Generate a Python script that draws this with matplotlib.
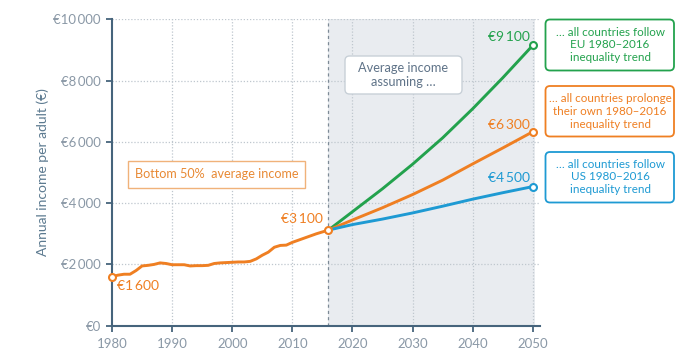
import matplotlib
matplotlib.use("Agg")
import matplotlib.pyplot as plt
from matplotlib.patches import FancyBboxPatch

plt.rcParams['font.family'] = ['Lato', 'DejaVu Sans']

# ---- data ----
hist_years = list(range(1980, 2017))
hist_values = [1600, 1650, 1680, 1680, 1800, 1950, 1970, 2000, 2050, 2030,
               1990, 1990, 1990, 1950, 1960, 1960, 1970, 2030, 2050, 2060,
               2070, 2080, 2080, 2100, 2180, 2300, 2400, 2560, 2620, 2630,
               2720, 2790, 2860, 2930, 3000, 3060, 3120]
proj_years = [2016, 2020, 2025, 2030, 2035, 2040, 2045, 2050]
eu_values = [3120, 3720, 4470, 5270, 6130, 7080, 8090, 9150]
own_values = [3120, 3450, 3850, 4280, 4750, 5280, 5800, 6330]
us_values = [3120, 3300, 3480, 3680, 3900, 4130, 4340, 4540]
x_ticks = [1980, 1990, 2000, 2010, 2020, 2030, 2040, 2050]
y_ticks = [0, 2000, 4000, 6000, 8000, 10000]
y_tick_labels = ["€0", "€2\u2009000", "€4\u2009000", "€6\u2009000", "€8\u2009000", "€10\u2009000"]

GREEN = "#23a24d"
ORANGE = "#ef7f22"
BLUE = "#1e9ad3"
SPINE = "#46647c"
TICKTXT = "#8a98a6"
GRID = "#bfc7ce"

W, H = 696, 361
fig = plt.figure(figsize=(W / 100, H / 100), dpi=100)
ax = fig.add_axes([112 / W, 35.3 / H, (540 - 112) / W, (325.7 - 19.3) / H])

ax.set_xlim(1980, 2051.2)
ax.set_ylim(0, 10000)

# shaded projection area
ax.axvspan(2016, 2050.3, color="#e9ecf0", zorder=0, lw=0)
ax.axvline(2016, color="#7d8a96", lw=0.9, ls=(0, (2.5, 2.5)), zorder=1)

# grid
for xv in x_ticks[1:]:
    ax.axvline(xv, color=GRID, lw=0.9, ls=(0, (1, 1.5)), zorder=0.5)
for yv in y_ticks[1:]:
    ax.axhline(yv, color=GRID, lw=0.9, ls=(0, (1, 1.5)), zorder=0.5)

# lines
lw = 2.1
ax.plot(proj_years, eu_values, color=GREEN, lw=lw, zorder=3, solid_capstyle='round', solid_joinstyle='round')
ax.plot(proj_years, own_values, color=ORANGE, lw=lw, zorder=3, solid_capstyle='round', solid_joinstyle='round')
ax.plot(proj_years, us_values, color=BLUE, lw=lw, zorder=3, solid_capstyle='round', solid_joinstyle='round')
ax.plot(hist_years, hist_values, color=ORANGE, lw=lw, zorder=4, solid_joinstyle='round')

mk = dict(marker='o', ms=5, mfc='white', mew=1.5, zorder=5, ls='none', clip_on=False)
ax.plot([hist_years[0]], [hist_values[0]], mec=ORANGE, **mk)
ax.plot([hist_years[-1]], [hist_values[-1]], mec=ORANGE, **mk)
ax.plot([proj_years[-1]], [eu_values[-1]], mec=GREEN, **mk)
ax.plot([proj_years[-1]], [own_values[-1]], mec=ORANGE, **mk)
ax.plot([proj_years[-1]], [us_values[-1]], mec=BLUE, **mk)

# spines & ticks
for s in ["top", "right"]:
    ax.spines[s].set_visible(False)
for s in ["left", "bottom"]:
    ax.spines[s].set_color(SPINE)
    ax.spines[s].set_linewidth(1.5)
ax.set_xticks(x_ticks)
ax.set_xticklabels([str(v) for v in x_ticks])
ax.set_yticks(y_ticks)
ax.set_yticklabels(y_tick_labels)
ax.tick_params(axis='both', colors=SPINE, labelcolor=TICKTXT, labelsize=9.5,
               length=4, width=1.3, direction='out')
ax.tick_params(axis='y', pad=4)
ax.tick_params(axis='x', pad=5)

# y-label
fig.text(43 / W, 1 - 172 / H, "Annual income per adult (€)", rotation=90,
         ha='center', va='center', color="#5c7a90", fontsize=10)

# value labels
ax.text(1980.8, 1290, "€1\u2009600", color=ORANGE, fontsize=10, ha='left', va='center')
ax.text(2015.0, 3470, "€3\u2009100", color=ORANGE, fontsize=10, ha='right', va='center')
ax.text(2049.5, 9430, "€9\u2009100", color=GREEN, fontsize=10, ha='right', va='center')
ax.text(2049.5, 6550, "€6\u2009300", color=ORANGE, fontsize=10, ha='right', va='center')
ax.text(2049.5, 4820, "€4\u2009500", color=BLUE, fontsize=10, ha='right', va='center')

# boxes in pixel (inch) coordinates
tr = fig.dpi_scale_trans

def box(x0, y0, x1, y1, ec, fc="white", round_=True, lw=1.3):
    bx = FancyBboxPatch((x0 / 100, (H - y1) / 100), (x1 - x0) / 100, (y1 - y0) / 100,
                        boxstyle=("round,pad=0,rounding_size=0.045" if round_ else "square,pad=0"),
                        transform=tr, ec=ec, fc=fc, lw=lw, zorder=10)
    fig.patches.append(bx)

def btext(x, y, s, color, fs=9.5, ls=1.05):
    fig.text(x / W, 1 - y / H, s, ha='center', va='center', color=color,
             fontsize=fs, linespacing=ls, zorder=11)

box(128, 161, 305, 188, "#f0b27a", round_=False, lw=1.0)
btext(217, 174.5, "Bottom 50%  average income", "#e88a35", fs=9.1)

box(345, 56, 462, 94, "#c8d0d7", lw=1.0)
btext(403.5, 75, "Average income\nassuming …", "#5f7388", fs=9.2, ls=1.18)

box(545.5, 19.5, 674, 70.5, GREEN)
btext(610, 45, "… all countries follow\nEU 1980–2016\ninequality trend", GREEN, fs=8.4, ls=1.2)

box(545.5, 86, 674, 136.5, ORANGE)
btext(610, 111.5, "… all countries prolonge\ntheir own 1980–2016\ninequality trend", ORANGE, fs=8.4, ls=1.2)

box(545.5, 152, 674, 202.5, BLUE)
btext(610, 177, "… all countries follow\nUS 1980–2016\ninequality trend", BLUE, fs=8.4, ls=1.2)

fig.savefig("out.png", dpi=100)
